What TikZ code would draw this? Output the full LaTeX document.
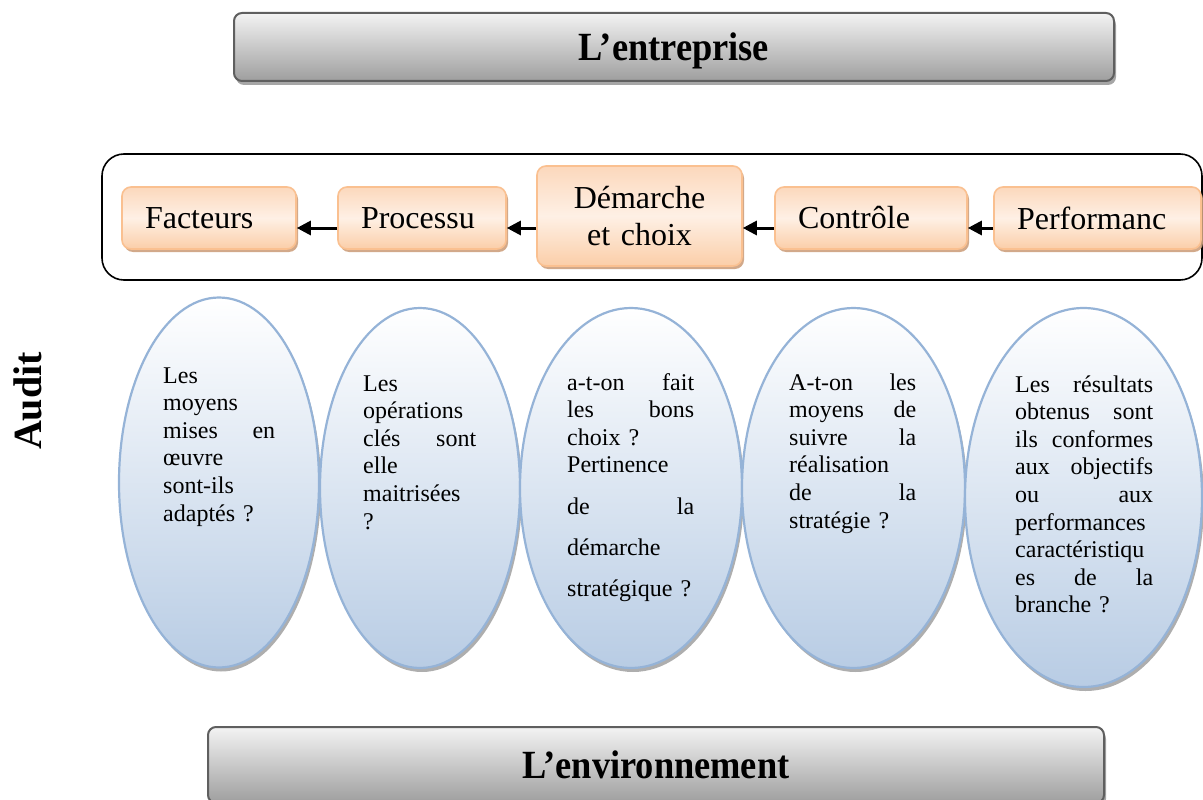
\documentclass[tikz,border=0pt]{standalone}
\usepackage{fontspec}
\setmainfont{Liberation Serif}
\usepackage{graphicx}
\usetikzlibrary{shapes.geometric,shadows,arrows.meta}

\definecolor{peachline}{RGB}{250,192,144}
\definecolor{peachtop}{RGB}{252,216,188}
\definecolor{peachmid}{RGB}{254,240,229}
\definecolor{peachbot}{RGB}{251,206,168}
\definecolor{peachshadow}{RGB}{205,160,125}
\definecolor{ovalline}{RGB}{149,179,215}
\definecolor{ovalbot}{RGB}{184,204,228}
\definecolor{barline}{RGB}{95,95,95}
\definecolor{bartop}{RGB}{243,243,243}
\definecolor{barbot}{RGB}{158,158,158}

\begin{document}
\begin{tikzpicture}[x=1pt,y=-1pt,
  bar/.style={draw=barline, line width=2pt, rounded corners=8pt,
    top color=bartop, bottom color=barbot,
    drop shadow={shadow xshift=2pt, shadow yshift=-4pt, fill=black!50, opacity=0.7},
    font=\fontsize{40}{44}\selectfont\bfseries, inner sep=0pt},
  frame/.style={draw=black, line width=1.6pt, rounded corners=22pt, inner sep=0pt},
  stepbox/.style={draw=peachline, line width=1.6pt, rounded corners=9pt,
    top color=peachtop, bottom color=peachbot, middle color=peachmid,
    drop shadow={shadow xshift=2pt, shadow yshift=-3pt, fill=peachshadow, opacity=0.9},
    font=\fontsize{32}{37}\selectfont, inner ysep=0pt},
  leftbox/.style={stepbox, align=left, inner xsep=23pt},
  arr/.style={line width=3pt, -{Triangle[length=14pt,width=14pt]}},
  oval/.style={ellipse, draw=ovalline, line width=2.2pt,
    top color=white, bottom color=ovalbot,
    drop shadow={shadow xshift=2pt, shadow yshift=-4pt, fill=black!45, opacity=0.7},
    inner sep=0pt},
  qtext/.style={font=\fontsize{24}{27.6}\selectfont, align=left,
    inner sep=0pt, anchor=base west}
]
\useasboundingbox (0,0) rectangle (1203,800);

% top and bottom bars
\node[bar, minimum width=880, minimum height=68] (ent) at (674,47)
  {\raisebox{-4pt}[\height][\depth]{\scalebox{0.91}[1]{L’entreprise}}};
\node[bar, minimum width=896, minimum height=76] (env) at (656,765)
  {\scalebox{0.91}[1]{L’environnement}};

% side label
\node[rotate=90, font=\fontsize{40}{44}\selectfont\bfseries] (audit) at (28,401) {Audit};

% frame around the chain of steps
\node[frame, minimum width=1100, minimum height=126] (chain) at (652,217) {};

% the steps
\node[leftbox, text width=128, minimum height=62] (fact) at (209,218) {Facteurs};
\node[leftbox, text width=122, minimum height=62] (proc) at (422,218) {Processu};
\node[stepbox, align=center, text width=205, inner xsep=0pt, minimum height=100] (dem) at (639.5,216)
  {Démarche\\et choix};
\node[leftbox, text width=146, minimum height=62] (cont) at (871,218) {Contrôle};
\node[leftbox, text width=161, minimum height=62] (perf) at (1097.5,218) {Performanc};

% arrows, right to left
\coordinate (a1) at ([yshift=-10pt]proc.west);
\coordinate (a3) at ([yshift=-10pt]cont.west);
\coordinate (a4) at ([yshift=-10pt]perf.west);
\draw[arr] (a1) -- (a1 -| fact.east);
\draw[arr] (a1 -| dem.west) -- (a1 -| proc.east);
\draw[arr] (a3) -- (a3 -| dem.east);
\draw[arr] (a4) -- (a4 -| cont.east);

% question ovals
\node[oval, minimum width=200, minimum height=370] (o1) at (219,482.5) {};
\node[oval, minimum width=200, minimum height=360] (o2) at (420,488) {};
\node[oval, minimum width=222, minimum height=360] (o3) at (631,488) {};
\node[oval, minimum width=223, minimum height=360] (o4) at (853.5,488) {};
\node[oval, minimum width=237, minimum height=379] (o5) at (1083.5,497.5) {};

\node[qtext, text width=112] (q1) at (163,383)
  {Les\\moyens\\mises\hfill en\\œuvre\\sont-ils\\adaptés ?};
\node[qtext, text width=113] (q2) at (363,391)
  {Les\\opérations\\clés\hfill sont\\elle\\maitrisées\\?};
\node[qtext, text width=127] (q3) at (567,390)
  {a-t-on\hfill fait\\les\hfill bons\\choix ?\\Pertinence\\[14pt]de\hfill la\\[13pt]démarche\\[14pt]stratégique ?};
\node[qtext, text width=127] (q4) at (789,390)
  {A-t-on\hfill les\\moyens\hfill de\\suivre\hfill la\\réalisation\\de\hfill la\\stratégie ?};
\node[qtext, text width=138] (q5) at (1015,392)
  {Les\hfill résultats\\obtenus\hfill sont\\ils\hfill conformes\\aux\hfill objectifs\\ou\hfill aux\\performances\\caractéristiqu\\es\hfill de\hfill la\\branche ?};
\end{tikzpicture}
\end{document}
